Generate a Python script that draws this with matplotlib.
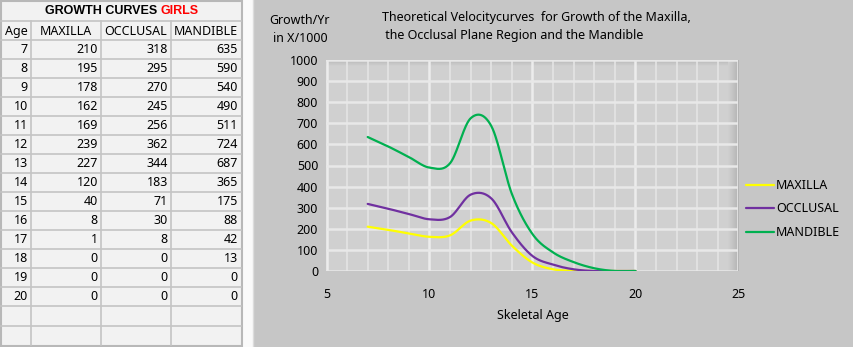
import numpy as np
import matplotlib
matplotlib.use("Agg")
import matplotlib.pyplot as plt
from matplotlib.patches import Rectangle

# DATA
ages = [7, 8, 9, 10, 11, 12, 13, 14, 15, 16, 17, 18, 19, 20]
maxilla = [210, 195, 178, 162, 169, 239, 227, 120, 40, 8, 1, 0, 0, 0]
occlusal = [318, 295, 270, 245, 256, 362, 344, 183, 71, 30, 8, 0, 0, 0]
mandible = [635, 590, 540, 490, 511, 724, 687, 365, 175, 88, 42, 13, 0, 0]
series_names = ["MAXILLA", "OCCLUSAL", "MANDIBLE"]
series_colors = ["#ffff00", "#7030a0", "#00b050"]
x_ticks = [5, 10, 15, 20, 25]
y_ticks = list(range(0, 1001, 100))

W, H = 854, 347
plt.rcParams['font.family'] = ['Noto Sans', 'DejaVu Sans']
FS = 9


def smooth(x, y, n=30):
    # excel-like smoothed line: bezier segments with catmull-rom controls
    x = np.asarray(x, float)
    y = np.asarray(y, float)
    px = np.concatenate([[x[0]], x, [x[-1]]])
    py = np.concatenate([[y[0]], y, [y[-1]]])
    t = np.linspace(0, 1, n)
    xs, ys = [], []
    for i in range(len(x) - 1):
        p0 = np.array([px[i + 1], py[i + 1]])
        p3 = np.array([px[i + 2], py[i + 2]])
        c1 = p0 + (np.array([px[i + 2], py[i + 2]]) - np.array([px[i], py[i]])) / 6
        c2 = p3 - (np.array([px[i + 3], py[i + 3]]) - np.array([px[i + 1], py[i + 1]])) / 6
        b = ((1 - t) ** 3)[:, None] * p0 + (3 * (1 - t) ** 2 * t)[:, None] * c1 \
            + (3 * (1 - t) * t ** 2)[:, None] * c2 + (t ** 3)[:, None] * p3
        xs.append(b[:, 0])
        ys.append(b[:, 1])
    return np.concatenate(xs), np.concatenate(ys)


fig = plt.figure(figsize=(W / 100, H / 100), dpi=100, facecolor="#fafafa")

# background layer in pixel coordinates
bg = fig.add_axes([0, 0, 1, 1], zorder=-1)
bg.set_xlim(0, W)
bg.set_ylim(H, 0)
bg.axis("off")

# ---- table ----
line_c = "#c4c4c4"
bg.add_patch(Rectangle((1, 1), 241, 345, facecolor="#f2f2f2", edgecolor="#b8b8b8", lw=1.5))
col_x = [1, 31, 101, 171, 241]
row_top = 40
row_h = 19
n_rows = len(ages)
rows_y = [21] + [row_top + row_h * k for k in range(n_rows + 1)] + [326]
for yy in rows_y:
    bg.plot([1, 241], [yy, yy], color=line_c, lw=1.2)
for xx in col_x[1:-1]:
    bg.plot([xx, xx], [21, 345], color=line_c, lw=1.2)

bold_font = ['Liberation Sans', 'DejaVu Sans']
bg.text(157, 11, "GROWTH CURVES", fontsize=9, fontweight="bold", family=bold_font,
        ha="right", va="center", color="black")
bg.text(161, 11, "GIRLS", fontsize=9, fontweight="bold", family=bold_font,
        ha="left", va="center", color="red")
headers = ["Age"] + series_names
for j, h in enumerate(headers):
    bg.text((col_x[j] + col_x[j + 1]) / 2, 31, h, fontsize=FS, ha="center", va="center")
cols = [ages, maxilla, occlusal, mandible]
for i in range(n_rows):
    yc = row_top + row_h * i + row_h / 2
    for j, c in enumerate(cols):
        bg.text(col_x[j + 1] - 3, yc, str(c[i]), fontsize=FS, ha="right", va="center")

# ---- chart background ----
bg.add_patch(Rectangle((253, 0), W - 253, H, facecolor="#c6c6c6", edgecolor="none"))
bg.plot([253, 253], [0, H], color="#dcdcdc", lw=1)

bg.text(300, 20, "Growth/Yr", fontsize=FS, ha="center", va="center")
bg.text(300, 38, "in X/1000", fontsize=FS, ha="center", va="center")
bg.text(382, 17, "Theoretical Velocitycurves  for Growth of the Maxilla,", fontsize=FS,
        ha="left", va="center")
bg.text(382, 35, " the Occlusal Plane Region and the Mandible", fontsize=FS,
        ha="left", va="center")

# ---- plot ----
x0, x1, y_top, y_bot = 326.5, 738.5, 60, 271
ax = fig.add_axes([x0 / W, (H - y_bot) / H, (x1 - x0) / W, (y_bot - y_top) / H])
ax.set_facecolor("#d0d0d0")

# edge shading of the plot area
top_grad = np.linspace(0.70, 0.815, 32)[:, None] * np.ones((1, 2))
ax.imshow(top_grad, extent=[0, 1, 0.97, 1.0], transform=ax.transAxes, cmap="gray",
          vmin=0, vmax=1, aspect="auto", zorder=0.5, origin="upper")
right_grad = np.linspace(0.815, 0.70, 32)[None, :] * np.ones((2, 1))
ax.imshow(right_grad, extent=[0.975, 1.0, 0, 1], transform=ax.transAxes, cmap="gray",
          vmin=0, vmax=1, aspect="auto", zorder=0.5)
ax.set_xlim(5, 25)
ax.set_ylim(0, 1000)

for v in range(5, 26):
    major = v % 5 == 0
    ax.axvline(v, color="#ececec" if major else "#e4e4e4", lw=1.8 if major else 1.2, zorder=1)
for v in y_ticks:
    ax.axhline(v, color="#e8e8e8", lw=1.8, zorder=1)

for name, ys, c in zip(series_names, [maxilla, occlusal, mandible], series_colors):
    sx, sy = smooth(ages, ys)
    ax.plot(sx, sy, color=c, lw=1.6, label=name, zorder=3, solid_capstyle="round")

ax.set_xticks(x_ticks)
ax.set_yticks(y_ticks)
ax.tick_params(length=0, labelsize=FS, pad=6)
ax.tick_params(axis="x", pad=12)
for s in ax.spines.values():
    s.set_visible(False)
ax.set_xlabel("Skeletal Age", fontsize=FS, labelpad=6)

leg = ax.legend(loc="center left", bbox_to_anchor=(735 / W, (H - 209) / H),
                bbox_transform=fig.transFigure, frameon=False, fontsize=FS,
                handlelength=2.2, handletextpad=0.2, labelspacing=0.85)

fig.savefig("out.png", dpi=100, facecolor=fig.get_facecolor())
